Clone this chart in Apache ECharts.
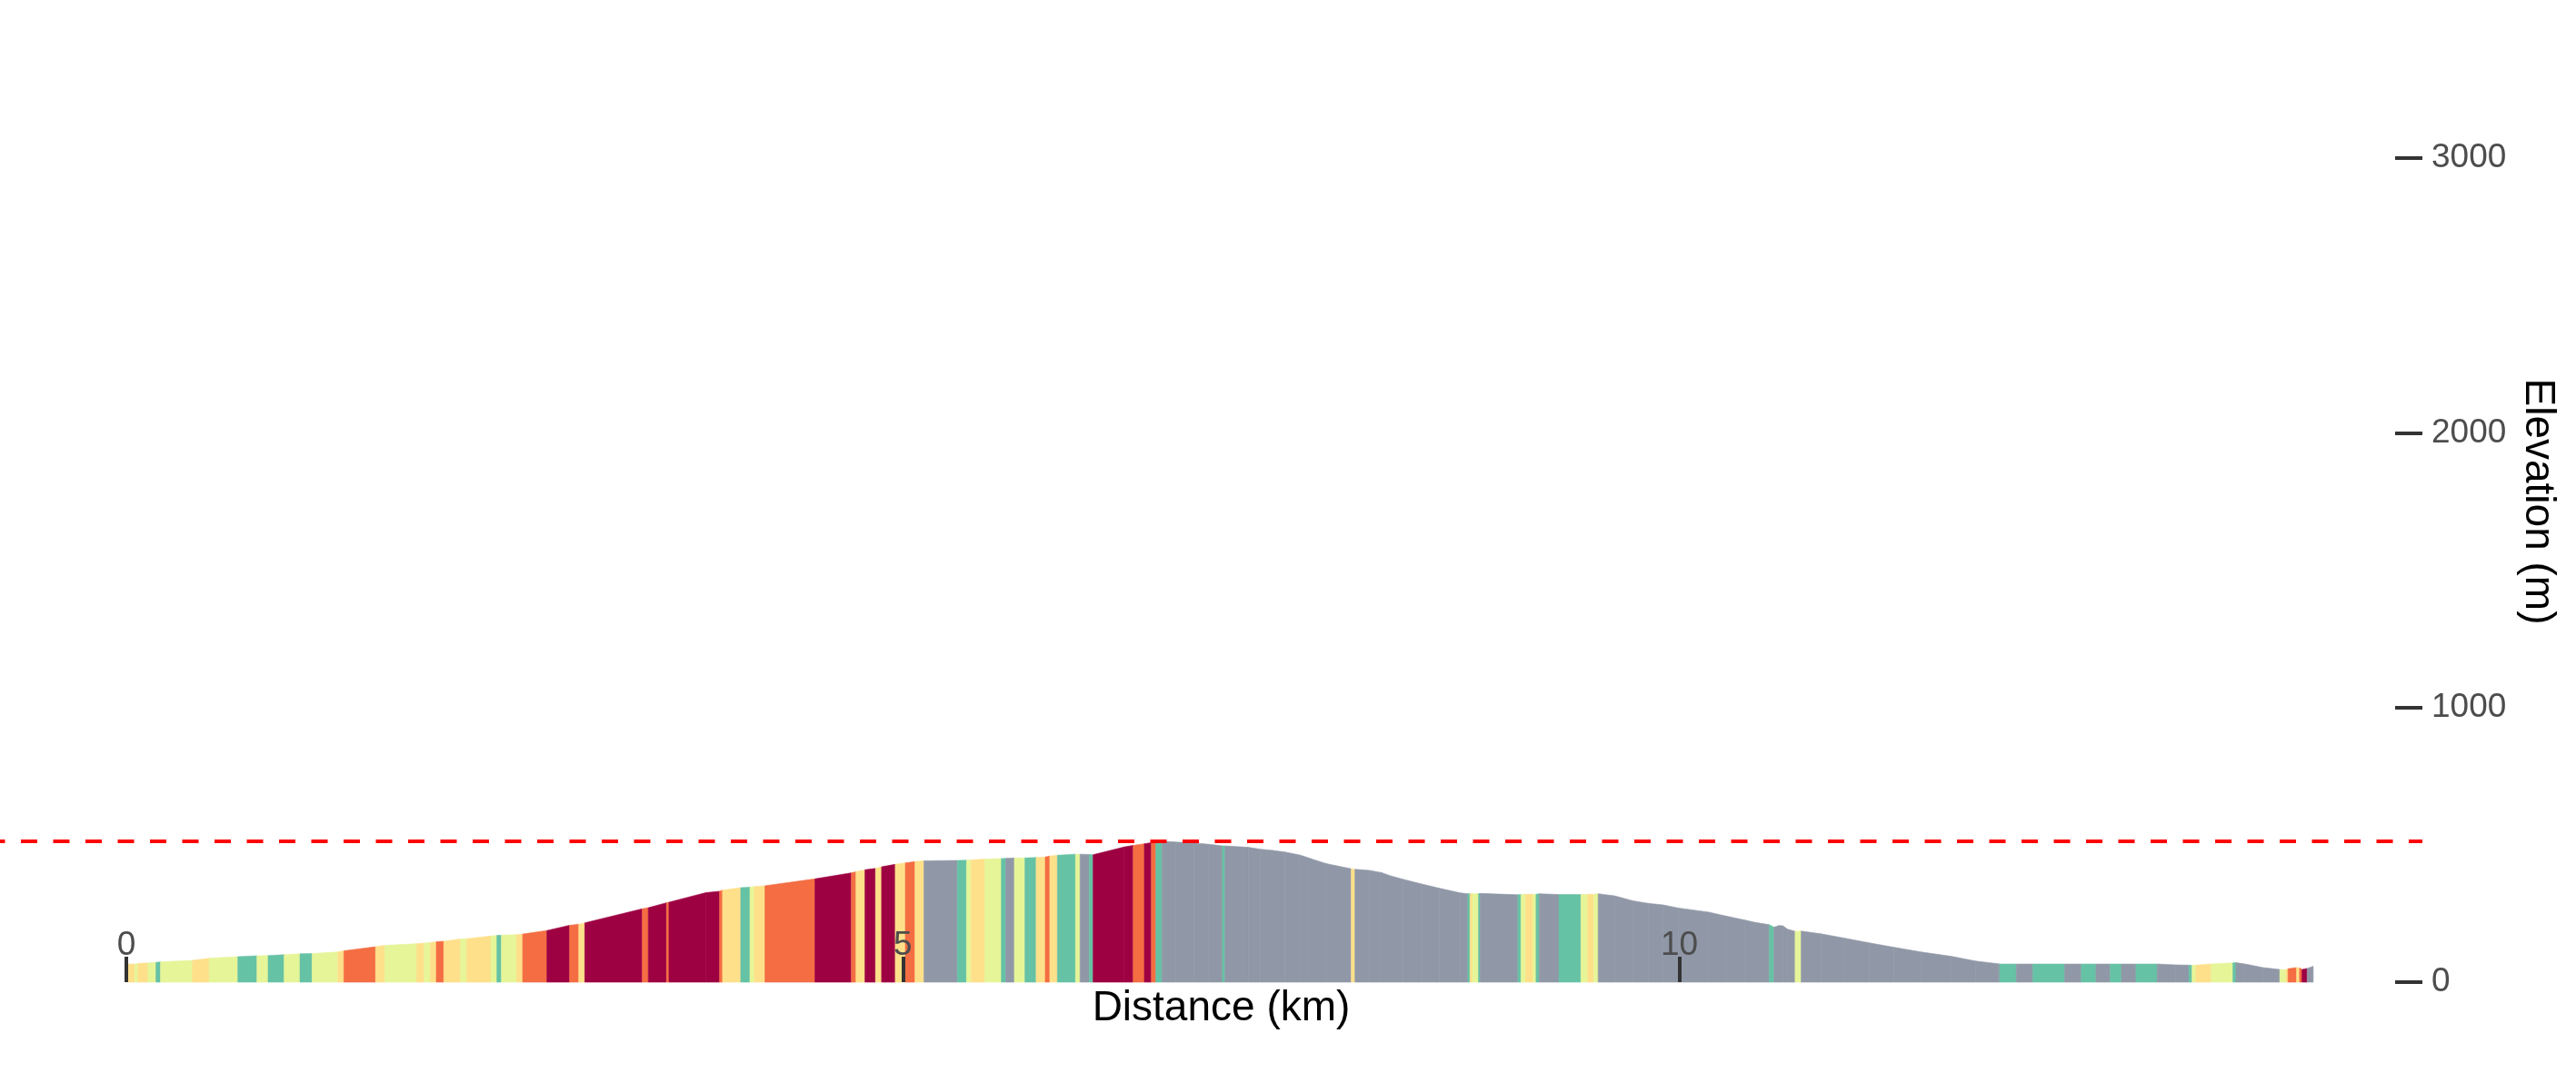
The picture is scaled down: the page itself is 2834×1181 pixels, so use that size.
<!DOCTYPE html>
<html>
<head>
<meta charset="utf-8">
<script src="https://cdn.jsdelivr.net/npm/echarts@6/dist/echarts.min.js"></script>
<style>
html,body{margin:0;padding:0;background:#fff;}
#chart{width:2834px;height:1181px;}
</style>
</head>
<body>
<div id="chart"></div>
<script>
// Distance along the route (km) at each profile point
const distKm = [
  0.000,0.055,0.074,0.139,0.191,0.220,0.425,0.533,0.718,0.841,
  0.913,1.016,1.118,1.196,1.362,1.401,1.605,1.664,1.869,1.918,
  1.957,1.996,2.044,2.152,2.191,2.347,2.386,2.415,2.513,2.552,
  2.708,2.854,2.913,2.952,3.322,3.361,3.478,3.494,3.732,3.820,
  3.839,3.956,4.015,4.044,4.112,4.434,4.668,4.698,4.756,4.824,
  4.863,4.951,5.016,5.078,5.136,5.351,5.410,5.439,5.527,5.634,
  5.663,5.718,5.786,5.858,5.917,5.946,5.995,6.112,6.141,6.200,
  6.225,6.424,6.483,6.555,6.600,6.629,6.668,6.756,6.873,6.970,
  7.058,7.074,7.224,7.302,7.380,7.458,7.555,7.614,7.673,7.731,
  7.790,7.887,7.911,8.004,8.082,8.141,8.219,8.336,8.453,8.589,
  8.638,8.652,8.668,8.706,8.716,8.960,8.980,9.009,9.057,9.077,
  9.097,9.224,9.366,9.409,9.448,9.477,9.584,9.701,9.799,9.896,
  9.994,10.189,10.306,10.423,10.482,10.579,10.609,10.640,10.667,10.696,
  10.745,10.784,10.911,11.067,11.223,11.379,11.555,11.750,11.906,12.052,
  12.062,12.169,12.276,12.481,12.588,12.682,12.774,12.846,12.940,13.076,
  13.193,13.281,13.301,13.326,13.424,13.564,13.584,13.642,13.759,13.866,
  13.905,13.919,13.974,13.993,14.009,14.042,14.081
];
// Elevation (m) at each profile point
const elevM = [
  66,66,68,70,72,74,79,87,93,96,
  97,100,103,104,110,114,129,134,140,142,
  144,147,149,157,158,168,170,171,173,175,
  188,207,211,216,267,271,289,291,326,331,
  335,344,346,348,351,376,398,402,409,414,
  420,429,434,439,442,443,444,445,448,450,
  451,452,452,454,456,459,462,466,466,465,
  464,492,498,504,508,509,514,510,507,502,
  496,496,491,484,480,474,463,452,441,431,
  424,413,411,407,399,387,375,358,342,325,
  322,322,322,322,323,318,319,320,320,320,
  322,319,319,320,320,322,314,296,287,281,
  270,255,240,226,218,209,200,206,205,193,
  185,186,176,160,143,127,110,94,77,67,
  66,66,66,66,66,66,66,66,66,66,
  63,62,61,62,66,70,71,66,53,46,
  45,49,53,52,46,50,58
];
// Gradient class of each interval between consecutive points
// G = descent, T = flat, L = gentle, Y = moderate, O = steep, C = very steep
const gradeClass = [
  'Y','L','Y','L','T','L','Y','L','T','L',
  'T','L','T','L','Y','O','Y','L','Y','L',
  'Y','O','Y','L','Y','L','T','L','Y','O',
  'C','O','Y','C','O','C','O','C','C','O',
  'Y','T','L','Y','O','C','O','Y','C','Y',
  'C','Y','O','Y','G','T','L','Y','L','T',
  'G','L','T','Y','O','Y','T','L','G','T',
  'C','C','O','C','O','T','G','G','G','G',
  'T','G','G','G','G','G','G','G','G','G',
  'G','Y','G','G','G','G','G','G','G','G',
  'T','Y','L','T','G','T','L','Y','L','T',
  'G','T','L','Y','L','G','G','G','G','G',
  'G','G','G','G','G','T','G','G','G','G',
  'L','G','G','G','G','G','G','G','G','G',
  'T','G','T','G','T','G','T','G','T','G',
  'G','T','L','Y','L','T','G','G','G','L',
  'Y','O','Y','O','C','G'
];
const classColors = {G:'#9098a7', T:'#66c2a5', L:'#e6f598', Y:'#fee08b', O:'#f46d43', C:'#9e0142'};
const xTickValues = [0, 5, 10];
const yTickValues = [0, 1000, 2000, 3000];

const segData = [];
for (let i = 0; i < distKm.length - 1; i++) {
  segData.push([distKm[i], distKm[i+1], elevM[i], elevM[i+1]]);
}
const maxElev = Math.max.apply(null, elevM);

const FONT = "'Liberation Sans', Arial, sans-serif";
const chart = echarts.init(document.getElementById('chart'));
chart.setOption({
  animation: false,
  backgroundColor: '#ffffff',
  textStyle: { fontFamily: FONT },
  grid: { left: 0, right: 169, top: 23, bottom: 100, containLabel: false },
  xAxis: {
    type: 'value',
    z: 10,
    min: -0.8135,
    max: 14.784,
    name: 'Distance (km)',
    nameLocation: 'middle',
    nameGap: -2,
    nameTextStyle: { fontSize: 46, color: '#000', fontFamily: FONT, verticalAlign: 'top', padding: [0, 0, 0, 22] },
    axisLine: { show: false, onZero: false },
    splitLine: { show: false },
    axisTick: { show: true, inside: true, length: 28, customValues: xTickValues, lineStyle: { color: '#333333', width: 4 } },
    axisLabel: { show: true, inside: true, margin: 22, fontSize: 37, color: '#4d4d4d', fontFamily: FONT,
                 customValues: xTickValues, formatter: function (v) { return String(v); } }
  },
  yAxis: {
    type: 'value',
    z: 10,
    position: 'right',
    min: 0,
    max: 3500,
    name: 'Elevation (m)',
    nameLocation: 'middle',
    nameRotate: -90,
    nameGap: 79,
    nameTextStyle: { fontSize: 46, color: '#000', fontFamily: FONT },
    axisLine: { show: false, onZero: false },
    splitLine: { show: false },
    axisTick: { show: true, inside: true, length: 30, customValues: yTickValues, lineStyle: { color: '#333333', width: 4 } },
    axisLabel: { show: true, margin: 10, fontSize: 37, color: '#4d4d4d', fontFamily: FONT,
                 customValues: yTickValues, formatter: function (v) { return String(v); } }
  },
  series: [{
    type: 'custom',
    coordinateSystem: 'cartesian2d',
    z: 2,
    encode: { x: [0, 1], y: [2, 3] },
    data: segData,
    renderItem: function (params, api) {
      const x0 = api.value(0), x1 = api.value(1), e0 = api.value(2), e1 = api.value(3);
      const col = classColors[gradeClass[params.dataIndex]];
      return {
        type: 'polygon',
        shape: { points: [api.coord([x0, 0]), api.coord([x0, e0]), api.coord([x1, e1]), api.coord([x1, 0])] },
        style: { fill: col, stroke: col, lineWidth: 0.6 }
      };
    },
    markLine: {
      silent: true,
      symbol: ['none', 'none'],
      label: { show: false },
      lineStyle: { color: '#ff0000', type: [18, 17.5], dashOffset: 12.5, width: 4 },
      data: [{ yAxis: maxElev }]
    }
  }]
});
</script>
</body>
</html>
